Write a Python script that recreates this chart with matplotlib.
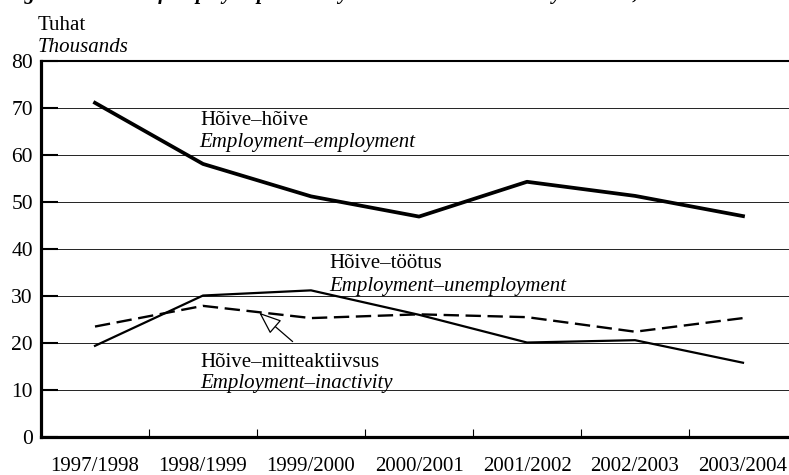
import matplotlib
matplotlib.use("Agg")
import matplotlib.pyplot as plt
from matplotlib.ticker import FixedLocator

plt.rcParams['font.family'] = ['Liberation Serif', 'DejaVu Serif']

years = ["1997/1998", "1998/1999", "1999/2000", "2000/2001",
         "2001/2002", "2002/2003", "2003/2004"]
emp_emp = [71.1, 58.1, 51.2, 46.9, 54.3, 51.3, 47.0]
emp_unemp = [19.4, 30.1, 31.2, 26.0, 20.1, 20.6, 15.8]
emp_inact = [23.5, 27.9, 25.3, 26.1, 25.5, 22.4, 25.3]
y_ticks = [0, 10, 20, 30, 40, 50, 60, 70, 80]

W, H = 789, 475
fig = plt.figure(figsize=(W / 100, H / 100), dpi=100)
ax = fig.add_axes([41 / W, 38 / H, 756 / W, 376 / H])

x = list(range(len(years)))
ax.plot(x, emp_emp, color='black', lw=2.7, zorder=3)
ax.plot(x, emp_unemp, color='black', lw=1.6, zorder=3)
ax.plot(x, emp_inact, color='black', lw=1.7, dashes=(6.5, 2.8), zorder=3)

ax.set_xlim(-0.5, 6.5)
ax.set_ylim(0, 80)
ax.set_yticks(y_ticks)
for v in y_ticks[1:-1]:
    ax.axhline(v, color='#222222', lw=0.7, zorder=1)

ax.set_xticks(x)
ax.set_xticklabels(years)
ax.xaxis.set_minor_locator(FixedLocator([i + 0.5 for i in x[:-1]]))
ax.tick_params(axis='x', which='major', length=0, pad=14.5, labelsize=15)
ax.tick_params(axis='x', which='minor', direction='in', length=6, width=0.8)
ax.tick_params(axis='y', direction='in', length=12, width=1.5, pad=5.8, labelsize=15.5)

for s in ['left', 'bottom']:
    ax.spines[s].set_linewidth(2.3)
ax.spines['top'].set_linewidth(1.5)
ax.spines['right'].set_visible(False)

fs = 15


def py(ypix):
    return (437 - ypix) / 4.7


def px(xpix):
    return (xpix - 95) / 108


ax.text(px(200), py(125), "Hõive–hõive", fontsize=fs, va='baseline', ha='left')
ax.text(px(199), py(147), "Employment–employment", fontsize=fs, style='italic', va='baseline', ha='left')
ax.text(px(329), py(268.5), "Hõive–töötus", fontsize=fs, va='baseline', ha='left')
ax.text(px(329), py(290.5), "Employment–unemployment", fontsize=fs, style='italic', va='baseline', ha='left')
ax.text(px(200), py(367), "Hõive–mitteaktiivsus", fontsize=fs, va='baseline', ha='left')
ax.text(px(200), py(388), "Employment–inactivity", fontsize=fs, style='italic', va='baseline', ha='left')

ax.annotate("", xy=(1.52, 26.45), xytext=(1.83, 20.3),
            arrowprops=dict(arrowstyle='-|>,head_length=1.4,head_width=0.55',
                            facecolor='white', edgecolor='black', lw=0.9,
                            shrinkA=0, shrinkB=0), zorder=4)

fig.text(38 / W, 1 - 30 / H, "Tuhat", fontsize=fs, va='baseline', ha='left')
fig.text(38 / W, 1 - 51.5 / H, "Thousands", fontsize=fs, style='italic', va='baseline', ha='left')

fig.text(5 / W, 1 + 0.5 / H,
         "Figure 3. Flows of employed persons by labour market status a year later, 1997–2004",
         fontsize=15, weight='bold', style='italic', va='baseline', ha='left')

fig.savefig("out.png", dpi=100)
